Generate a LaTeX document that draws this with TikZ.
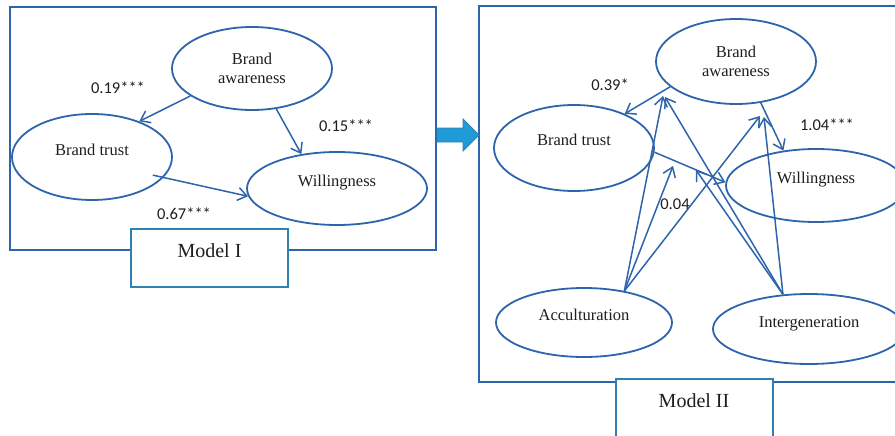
\documentclass[tikz,border=0pt]{standalone}
\usepackage{fontspec}
\setmainfont{Liberation Serif}
\newfontfamily\calfont{Carlito}
\usepackage{xcolor}
\usepackage{tikz}
\usetikzlibrary{arrows.meta,shapes.geometric}
\definecolor{lineblue}{HTML}{2E64AB}
\definecolor{boxblue}{HTML}{3080B2}
\definecolor{fillblue}{HTML}{1F9BD7}
\definecolor{txt}{HTML}{1E1E1E}
\newcommand{\nodept}{\fontsize{16.5}{18.4}\selectfont}
\newcommand{\coefpt}{\calfont\fontsize{16.5}{18}\selectfont}

\begin{document}
\begin{tikzpicture}[x=1pt,y=-1pt,
  oval/.style={ellipse,draw=lineblue,line width=1.8pt,inner sep=0pt,text=txt,font=\nodept,align=center},
  oneline/.style={text height=11pt,text depth=15pt},
  link/.style={draw=lineblue,line width=1.5pt,-{Straight Barb[length=9pt,width=13pt]}},
  coef/.style={text=txt,font=\coefpt,inner sep=0pt},
  frame/.style={draw=lineblue,line width=1.8pt},
  modelbox/.style={rectangle,draw=boxblue,line width=2pt,fill=white,text=txt,
    font=\fontsize{20}{22}\selectfont,minimum width=157pt,minimum height=58pt,
    text height=14pt,text depth=15pt}]
  \useasboundingbox (0,0) rectangle (895,436);
  \clip (0,0) rectangle (895,436);
  %% frames
  \draw[frame] (10,7) rectangle (436,250);
  \draw[frame] (479,6) rectangle (915,382);
  %% arrow between the models
  \filldraw[fill=fillblue,draw=boxblue,line width=0.8pt]
    (437,128) -- (463,128) -- (463,119) -- (479,135) -- (463,151) -- (463,142) -- (437,142) -- cycle;
  %% Model I
  \node[oval,minimum width=160pt,minimum height=83pt] (aw1) at (252,68.5) {Brand\\awareness};
  \node[oval,oneline,minimum width=160pt,minimum height=86pt] (tr1) at (92,157) {Brand trust};
  \node[oval,oneline,minimum width=180pt,minimum height=73pt] (wi1) at (337,188.5) {Willingness};
  \draw[link] (aw1.204) -- (tr1.37);
  \draw[link] (aw1.301) -- (wi1.136);
  \draw[link,shorten <=-11pt] (tr1.344) -- (wi1.185);
  \node[coef] (c19) at (118,88) {0.19***};
  \node[coef] (c15) at (346,126) {0.15***};
  \node[coef] (c67) at (184,214) {0.67***};
  \node[modelbox] (mod1) at (209.5,258) {Model I};
  %% Model II
  \node[oval,minimum width=160pt,minimum height=85pt] (aw2) at (736,61.5) {Brand\\awareness};
  \node[oval,oneline,minimum width=160pt,minimum height=86pt] (tr2) at (574,148) {Brand trust};
  \node[oval,oneline,minimum width=180pt,minimum height=73pt] (wi2) at (816,185.5) {Willingness};
  \node[oval,oneline,minimum width=176pt,minimum height=69pt] (ac2) at (584,322.5) {Acculturation};
  \node[oval,oneline,minimum width=192pt,minimum height=70pt] (ig2) at (809,329) {Intergeneration};
  \draw[link] (aw2.201) -- (tr2.34);
  \draw[link] (aw2.301) -- (wi2.133);
  \draw[link] (tr2.357) -- (wi2.178);
  %% moderator arrows
  \coordinate (acc) at (ac2.38);
  \coordinate (igs) at (ig2.127);
  \coordinate (m1a) at (663,96);
  \coordinate (m1b) at (665,97);
  \coordinate (m2a) at (673,166);
  \coordinate (m2b) at (696,170);
  \coordinate (m3a) at (760,116);
  \coordinate (m3b) at (764,117);
  \foreach \m in {m1a,m2a,m3a}
    \draw[link] (acc) -- (\m);
  \foreach \m in {m1b,m2b,m3b}
    \draw[link] (igs) -- (\m);
  \node[coef] (c39) at (610,85) {0.39*};
  \node[coef] (c104) at (827,125) {1.04***};
  \node[coef] (c04) at (675,204) {0.04};
  \node[modelbox] (mod2) at (694,408) {Model II};
\end{tikzpicture}
\end{document}
